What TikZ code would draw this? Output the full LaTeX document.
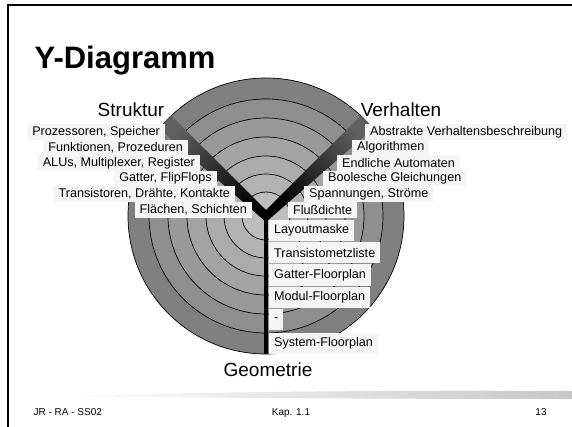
\documentclass[tikz,border=0pt]{standalone}
\usepackage{fontspec}
\setmainfont{Liberation Sans}

\begin{document}
\begin{tikzpicture}[x=1pt, y=-1pt,
  lbl/.style={fill=black!4, inner xsep=5pt, inner ysep=0pt, minimum height=15.5pt, font=\fontsize{12.6}{14}\selectfont},
  geo/.style={lbl, minimum height=21pt, anchor=west},
  axislabel/.style={anchor=base, font=\fontsize{19}{22}\selectfont},
  foot/.style={anchor=base, font=\fontsize{10}{12}\selectfont}]
\useasboundingbox (0,0) rectangle (572,427);
\draw[line width=2.5pt] (8,427) -- (8,5) -- (572,5);
\node[anchor=base west, font=\fontsize{31}{35}\selectfont\bfseries] (title) at (31,69) {Y-Diagramm};
\node[axislabel] (struktur) at (131,117) {Struktur};
\node[axislabel] (verhalten) at (401,117) {Verhalten};
\coordinate (C) at (266,216);
\foreach \r/\k in {138/50,117/44,98/40,79/36,60/33,42/30,24/26}
  \filldraw[fill=black!\k, draw=black, line width=0.7pt] (C) circle[radius=\r pt];
\shade[top color=black!62, bottom color=black, shading angle=45] (266,210) -- (171.2,115.6) -- (158.5,128.3) -- (266,222) -- cycle;
\shade[top color=black!62, bottom color=black, shading angle=-45] (266,210) -- (360.8,115.6) -- (373.5,128.3) -- (266,222) -- cycle;
\coordinate (bottom) at (266,354);
\draw[line width=4pt] (C) -- (bottom);
\node[lbl, anchor=east] (s1) at (165,132) {Prozessoren, Speicher};
\node[lbl, anchor=east] (s2) at (188,147.5) {Funktionen, Prozeduren};
\node[lbl, anchor=east] (s3) at (200,163) {ALUs, Multiplexer, Register};
\node[lbl, anchor=east] (s4) at (217,178.5) {Gatter, FlipFlops};
\node[lbl, anchor=east] (s5) at (235,194) {Transistoren, Drähte, Kontakte};
\node[lbl, anchor=east] (s6) at (252,210) {Flächen, Schichten};
\node[lbl, anchor=west] (v1) at (365,132) {Abstrakte Verhaltensbeschreibung};
\node[lbl, anchor=west] (v2) at (352,147.5) {Algorithmen};
\node[lbl, anchor=west] (v3) at (337,163) {Endliche Automaten};
\node[lbl, anchor=west] (v4) at (323,178.5) {Boolesche Gleichungen};
\node[lbl, anchor=west] (v5) at (304,194) {Spannungen, Ströme};
\node[lbl, anchor=west] (v6) at (288,210) {Flußdichte};
\node[geo] (g1) at (269,230.5) {Layoutmaske};
\node[geo] (g2) at (269,252.5) {Transistometzliste};
\node[geo] (g3) at (269,275) {Gatter-Floorplan};
\node[geo] (g4) at (269,297.5) {Modul-Floorplan};
\node[geo] (g5) at (269,319.5) {-};
\node[geo] (g6) at (269,343.5) {System-Floorplan};
\node[axislabel] (geometrie) at (268,376) {Geometrie};
\shade[left color=white, middle color=black!28, right color=black!22] (55,396) .. controls (200,392) and (400,390) .. (572,391) -- (572,399) .. controls (400,399) and (200,398) .. (55,396) -- cycle;
\node[foot, anchor=base west] (author) at (30,415) {JR - RA - SS02};
\node[foot] (chapter) at (291,415) {Kap. 1.1};
\node[foot] (page) at (541,415) {13};
\end{tikzpicture}
\end{document}
